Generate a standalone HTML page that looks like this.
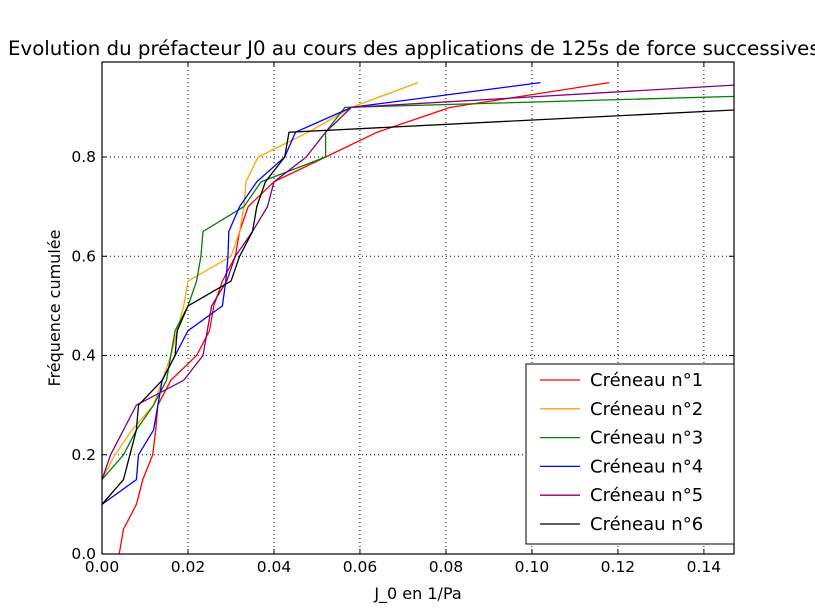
<!DOCTYPE html>
<html><head><meta charset="utf-8"><style>
body{margin:0;background:#fff;}
svg{display:block;font-family:"DejaVu Sans","Liberation Sans",sans-serif;}
</style></head><body>
<svg id="chart" width="815" height="615" viewBox="0 0 815 615" xmlns="http://www.w3.org/2000/svg">
<text x="8" y="55" font-size="19.8" fill="#000">Evolution du préfacteur J0 au cours des applications de 125s de force successives</text>
<defs><clipPath id="clip"><rect x="102" y="62" width="632" height="492"/></clipPath></defs>
<g id="grid"></g>
<g id="series" clip-path="url(#clip)"></g>
<rect x="102" y="62" width="632" height="492" fill="none" stroke="#000" stroke-width="1.2"/>
<g id="ticks"></g>
<text x="418" y="599" font-size="16" text-anchor="middle">J_0 en 1/Pa</text>
<text transform="translate(60,308) rotate(-90)" font-size="16" text-anchor="middle">Fréquence cumulée</text>
<g id="legend"></g>
</svg>
<script>
const xTicks=[0,0.02,0.04,0.06,0.08,0.10,0.12,0.14];
const xTickLabels=["0.00","0.02","0.04","0.06","0.08","0.10","0.12","0.14"];
const yTicks=[0,0.2,0.4,0.6,0.8];
const yTickLabels=["0.0","0.2","0.4","0.6","0.8"];
const seriesNames=["Créneau n°1","Créneau n°2","Créneau n°3","Créneau n°4","Créneau n°5","Créneau n°6"];
const seriesColors=["red","orange","green","blue","purple","black"];
const s1x=[0.004,0.005,0.008,0.0095,0.0118,0.0125,0.013,0.016,0.022,0.025,0.026,0.028,0.031,0.032,0.034,0.040,0.052,0.064,0.081,0.118];
const s1y=[0,0.05,0.1,0.15,0.2,0.25,0.3,0.35,0.4,0.45,0.5,0.55,0.6,0.65,0.7,0.75,0.8,0.85,0.9,0.95];
const s2x=[0,0.003,0.007,0.012,0.014,0.016,0.0175,0.019,0.02,0.03,0.032,0.033,0.0335,0.0363,0.048,0.058,0.0735];
const s2y=[0.15,0.2,0.25,0.3,0.35,0.4,0.45,0.5,0.55,0.6,0.65,0.7,0.75,0.8,0.85,0.9,0.95];
const s3x=[0,0.005,0.008,0.012,0.015,0.016,0.017,0.02,0.022,0.023,0.0235,0.033,0.037,0.052,0.052,0.0565,0.26];
const s3y=[0.15,0.2,0.25,0.3,0.35,0.4,0.45,0.5,0.55,0.6,0.65,0.7,0.75,0.8,0.85,0.9,0.95];
const s4x=[0,0.008,0.0085,0.012,0.013,0.014,0.017,0.02,0.028,0.0288,0.0293,0.0295,0.032,0.036,0.0425,0.045,0.058,0.102];
const s4y=[0.1,0.15,0.2,0.25,0.3,0.35,0.4,0.45,0.5,0.55,0.6,0.65,0.7,0.75,0.8,0.85,0.9,0.95];
const s5x=[0,0.002,0.005,0.008,0.019,0.0235,0.0245,0.0255,0.029,0.031,0.035,0.0385,0.04,0.0475,0.052,0.058,0.157];
const s5y=[0.15,0.2,0.25,0.3,0.35,0.4,0.45,0.5,0.55,0.6,0.65,0.7,0.75,0.8,0.85,0.9,0.95];
const s6x=[0,0.005,0.0065,0.008,0.0085,0.014,0.017,0.0175,0.02,0.03,0.032,0.035,0.036,0.038,0.0425,0.0435,0.159];
const s6y=[0.1,0.15,0.2,0.25,0.3,0.35,0.4,0.45,0.5,0.55,0.6,0.65,0.7,0.75,0.8,0.85,0.9];
const allX=[s1x,s2x,s3x,s4x,s5x,s6x];
const allY=[s1y,s2y,s3y,s4y,s5y,s6y];

const NS="http://www.w3.org/2000/svg";
const X0=102,X1=734,Y0=554,Y1=62,xMax=0.147,yMax=0.9915;
function sx(v){return X0+v/xMax*(X1-X0);}
function sy(v){return Y0-v/yMax*(Y0-Y1);}
function mk(tag,attrs,parent){const e=document.createElementNS(NS,tag);for(const k in attrs)e.setAttribute(k,attrs[k]);parent.appendChild(e);return e;}
const grid=document.getElementById('grid'),ticks=document.getElementById('ticks');
xTicks.forEach((t,i)=>{
  const x=sx(t);
  if(i>0){const g=mk('line',{x1:x,x2:x,y1:Y1,y2:Y0,stroke:'#000','stroke-dasharray':'1,3','stroke-width':1},grid);
  
  }
  mk('line',{x1:x,x2:x,y1:Y0,y2:Y0-5,stroke:'#000'},ticks);
  mk('line',{x1:x,x2:x,y1:Y1,y2:Y1+5,stroke:'#000'},ticks);
  const tx=mk('text',{x:x,y:572,'font-size':15.5,'text-anchor':'middle'},ticks);
  tx.textContent=xTickLabels[i];
  
  
});
yTicks.forEach((t,i)=>{
  const y=sy(t);
  if(i>0){const g=mk('line',{x1:X0,x2:X1,y1:y,y2:y,stroke:'#000','stroke-dasharray':'1,3','stroke-width':1},grid);
  
  }
  mk('line',{x1:X0,x2:X0+5,y1:y,y2:y,stroke:'#000'},ticks);
  mk('line',{x1:X1,x2:X1-5,y1:y,y2:y,stroke:'#000'},ticks);
  const tx=mk('text',{x:96,y:y+5,'font-size':15.5,'text-anchor':'end'},ticks);
  tx.textContent=yTickLabels[i];
  
  
});
const sg=document.getElementById('series');
allX.forEach((xs,i)=>{
  const pts=xs.map((v,j)=>sx(v).toFixed(1)+','+sy(allY[i][j]).toFixed(1)).join(' ');
  const p=mk('polyline',{points:pts,fill:'none',stroke:seriesColors[i],'stroke-width':1.3},sg);
  
  
});
const lg=document.getElementById('legend');
const box=mk('rect',{x:526,y:364,width:208,height:180,fill:'#fff',stroke:'#000','stroke-width':1},lg);


seriesNames.forEach((n,i)=>{
  const y=380+i*28.8;
  const g=mk('g',{},lg);
  
  
  mk('line',{x1:540,x2:580,y1:y,y2:y,stroke:seriesColors[i],'stroke-width':1.3},g);
  const t=mk('text',{x:590,y:y+6,'font-size':18},g);
  t.textContent=n;
});
</script>
</body></html>
